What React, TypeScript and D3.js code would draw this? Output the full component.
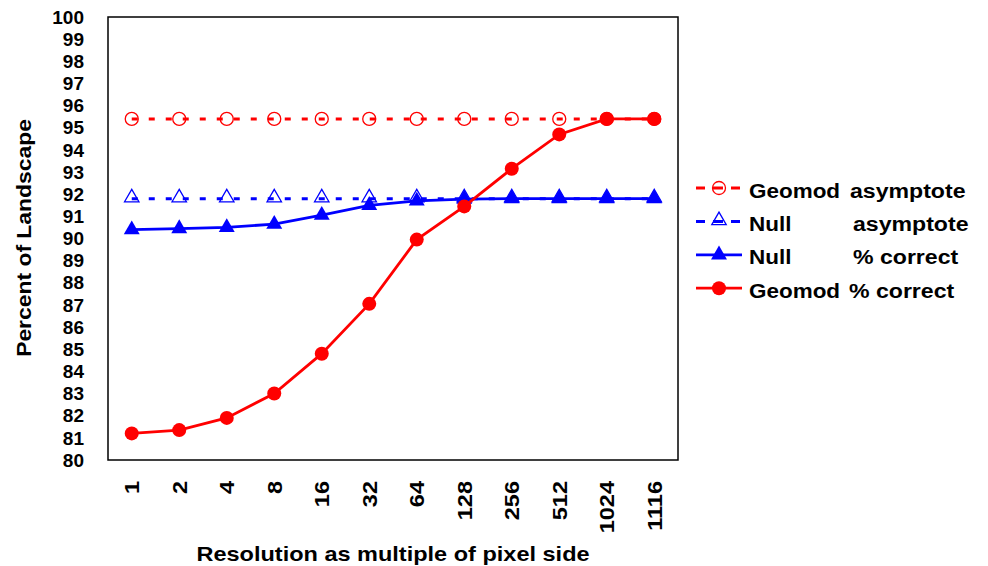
import React, { useEffect, useRef } from 'react';
import * as d3 from 'd3';

const resolutions = ['1', '2', '4', '8', '16', '32', '64', '128', '256', '512', '1024', '1116'];
const geomodAsymptote = [95.4, 95.4, 95.4, 95.4, 95.4, 95.4, 95.4, 95.4, 95.4, 95.4, 95.4, 95.4];
const nullAsymptote = [91.8, 91.8, 91.8, 91.8, 91.8, 91.8, 91.8, 91.8, 91.8, 91.8, 91.8, 91.8];
const nullCorrect = [90.4, 90.45, 90.5, 90.65, 91.05, 91.5, 91.7, 91.78, 91.8, 91.8, 91.8, 91.8];
const geomodCorrect = [81.2, 81.35, 81.9, 83.0, 84.8, 87.05, 89.95, 91.45, 93.15, 94.7, 95.4, 95.4];
const yTicks = d3.range(80, 101, 1);

const FONT = 'Arial, "Liberation Sans", Helvetica, sans-serif';
// the original text is a bit wider than Arial, stretch it
const WIDE = 1.12;

const App = () => {
  const ref = useRef<SVGSVGElement>(null);

  useEffect(() => {
    document.body.style.margin = '0';
    const margin = { top: 17, left: 108 };
    const width = 570;
    const height = 443;

    const svg = d3.select(ref.current);
    svg.selectAll('*').remove();

    const x = d3.scaleBand().domain(resolutions).range([0, width]);
    const y = d3.scaleLinear().domain([80, 100]).range([height, 0]);
    const cx = (d: string) => (x(d) as number) + x.bandwidth() / 2;

    const g = svg.append('g').attr('transform', `translate(${margin.left}, ${margin.top})`);

    // frame
    g.append('rect')
      .attr('width', width)
      .attr('height', height)
      .attr('fill', 'white')
      .attr('stroke', 'black')
      .attr('stroke-width', 1.5);

    // y axis labels
    g.append('g')
      .selectAll('text')
      .data(yTicks)
      .enter()
      .append('text')
      .text((d) => d)
      .attr('x', -24)
      .attr('y', (d) => y(d))
      .attr('dy', '0.35em')
      .attr('text-anchor', 'end')
      .style('font', `bold 19px ${FONT}`);

    // x axis labels
    g.append('g')
      .selectAll('text')
      .data(resolutions)
      .enter()
      .append('text')
      .text((d) => d)
      .attr('transform', (d) => `translate(${cx(d)}, ${height + 21}) rotate(-90) scale(${WIDE},1)`)
      .attr('dy', '0.36em')
      .attr('text-anchor', 'end')
      .style('font', `bold 21px ${FONT}`);

    const line = (vals: number[]) =>
      d3.line<number>().x((d, i) => cx(resolutions[i])).y((d) => y(d))(vals);

    const tri = d3.symbol().type(d3.symbolTriangle);

    // Geomod asymptote
    g.append('path')
      .attr('d', line(geomodAsymptote))
      .attr('fill', 'none')
      .attr('stroke', '#ff0000')
      .attr('stroke-width', 3)
      .attr('stroke-dasharray', '6,11');
    g.append('g')
      .selectAll('circle')
      .data(geomodAsymptote)
      .enter()
      .append('circle')
      .attr('cx', (d, i) => cx(resolutions[i]))
      .attr('cy', (d) => y(d))
      .attr('r', 6.5)
      .attr('fill', 'none')
      .attr('stroke', '#ff0000')
      .attr('stroke-width', 1.3);

    // Null asymptote
    g.append('path')
      .attr('d', line(nullAsymptote))
      .attr('fill', 'none')
      .attr('stroke', '#0000ff')
      .attr('stroke-width', 3)
      .attr('stroke-dasharray', '6,11');
    g.append('g')
      .selectAll('path')
      .data(nullAsymptote)
      .enter()
      .append('path')
      .attr('d', tri.size(90)())
      .attr('transform', (d, i) => `translate(${cx(resolutions[i])}, ${y(d) - 1})`)
      .attr('fill', 'none')
      .attr('stroke', '#0000ff')
      .attr('stroke-width', 1.3);

    // Null % correct
    g.append('path')
      .attr('d', line(nullCorrect))
      .attr('fill', 'none')
      .attr('stroke', '#0000ff')
      .attr('stroke-width', 2.8);
    g.append('g')
      .selectAll('path')
      .data(nullCorrect)
      .enter()
      .append('path')
      .attr('d', tri.size(110)())
      .attr('transform', (d, i) => `translate(${cx(resolutions[i])}, ${y(d)})`)
      .attr('fill', '#0000ff');

    // Geomod % correct
    g.append('path')
      .attr('d', line(geomodCorrect))
      .attr('fill', 'none')
      .attr('stroke', '#ff0000')
      .attr('stroke-width', 2.8);
    g.append('g')
      .selectAll('circle')
      .data(geomodCorrect)
      .enter()
      .append('circle')
      .attr('cx', (d, i) => cx(resolutions[i]))
      .attr('cy', (d) => y(d))
      .attr('r', 7)
      .attr('fill', '#ff0000');

    // axis titles
    svg.append('text')
      .text('Percent of Landscape')
      .attr('transform', `translate(31, 238) rotate(-90) scale(1.09,1)`)
      .attr('text-anchor', 'middle')
      .style('font', `bold 21px ${FONT}`);

    svg.append('text')
      .text('Resolution as multiple of pixel side')
      .attr('transform', `translate(${margin.left + width / 2}, 561) scale(${WIDE},1)`)
      .attr('text-anchor', 'middle')
      .style('font', `bold 21px ${FONT}`);

    // legend
    const legend = svg.append('g').attr('transform', 'translate(696, 188)');
    const rows = [
      { name: 'Geomod', kind: 'asymptote', color: '#ff0000', dashed: true, mark: 'ocircle', kx: 154 },
      { name: 'Null', kind: 'asymptote', color: '#0000ff', dashed: true, mark: 'otri', kx: 157 },
      { name: 'Null', kind: '% correct', color: '#0000ff', dashed: false, mark: 'tri', kx: 157 },
      { name: 'Geomod', kind: '% correct', color: '#ff0000', dashed: false, mark: 'circle', kx: 153 },
    ];
    rows.forEach((r, i) => {
      const row = legend.append('g').attr('transform', `translate(0, ${i * 33.4})`);
      row.append('line')
        .attr('x1', 0)
        .attr('x2', 46)
        .attr('stroke', r.color)
        .attr('stroke-width', r.dashed ? 3 : 2.8)
        .attr('stroke-dasharray', r.dashed ? '9,8,10,8,9' : null);
      if (r.mark === 'ocircle') {
        row.append('circle').attr('cx', 23).attr('r', 6.5).attr('fill', 'none').attr('stroke', r.color).attr('stroke-width', 1.3);
      } else if (r.mark === 'circle') {
        row.append('circle').attr('cx', 23).attr('r', 7).attr('fill', r.color);
      } else if (r.mark === 'otri') {
        row.append('path').attr('d', tri.size(90)()).attr('transform', 'translate(23, -1)')
          .attr('fill', 'none').attr('stroke', r.color).attr('stroke-width', 1.3);
      } else {
        row.append('path').attr('d', tri.size(110)()).attr('transform', 'translate(23, 0)').attr('fill', r.color);
      }
      row.append('text').text(r.name)
        .attr('transform', `translate(53, 9.5) scale(1.07,1)`)
        .style('font', `bold 21px ${FONT}`);
      row.append('text').text(r.kind)
        .attr('transform', `translate(${r.kx}, 9.5) scale(1.1,1)`)
        .style('font', `bold 21px ${FONT}`);
    });
  }, []);

  return <svg ref={ref} width={988} height={566} style={{ display: 'block', background: 'white' }} />;
};

export default App;
